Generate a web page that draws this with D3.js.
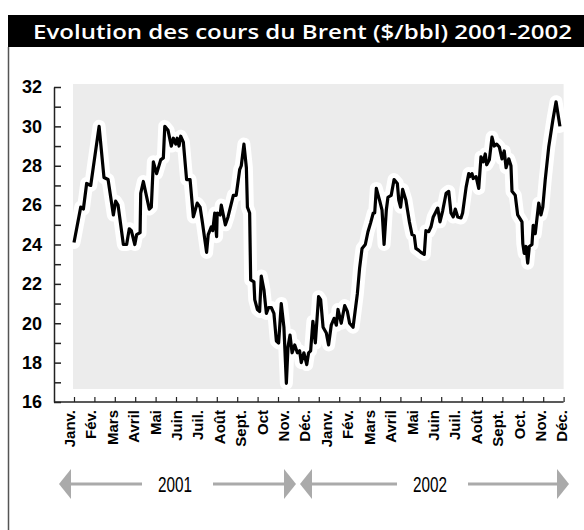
<!DOCTYPE html>
<html>
<head>
<meta charset="utf-8">
<script src="https://cdn.jsdelivr.net/npm/d3@7"></script>
<style>
  body { margin: 0; background: #fff; }
  #chart { width: 584px; height: 530px; }
  .y-axis text { font-family: "Liberation Sans", Arial, sans-serif; font-weight: bold; font-size: 18px; fill: #000; }
  .month { font-family: "Liberation Sans", Arial, sans-serif; font-weight: bold; font-size: 15px; fill: #000; }
  .year { font-family: "Liberation Sans Narrow", "Arial Narrow", "Liberation Sans", sans-serif; font-size: 22px; fill: #000; }
</style>
</head>
<body>
<div id="chart"></div>
<script>
// months since Jan 2001 (weekly-ish readings)
const t = [0.0,0.33,0.46,0.62,0.82,1.23,1.47,1.67,1.93,2.04,2.16,2.42,2.58,2.71,2.81,2.98,3.07,3.24,3.27,3.40,3.69,3.79,3.89,4.05,4.25,4.38,4.45,4.61,4.77,4.87,4.99,5.06,5.15,5.23,5.36,5.52,5.69,5.85,6.04,6.18,6.29,6.50,6.58,6.73,6.80,6.90,6.99,7.02,7.16,7.22,7.42,7.55,7.81,7.95,8.12,8.20,8.33,8.45,8.50,8.61,8.66,8.82,8.86,8.99,9.10,9.18,9.31,9.43,9.54,9.67,9.80,9.92,10.03,10.16,10.29,10.41,10.49,10.59,10.69,10.82,10.95,11.06,11.14,11.27,11.41,11.50,11.60,11.71,11.83,11.99,12.09,12.21,12.37,12.48,12.61,12.75,12.86,12.94,13.10,13.27,13.40,13.51,13.68,13.89,14.00,14.12,14.28,14.41,14.54,14.67,14.74,14.82,14.99,15.10,15.20,15.31,15.39,15.55,15.69,15.85,15.92,16.01,16.11,16.27,16.44,16.57,16.68,16.76,16.90,17.01,17.17,17.25,17.39,17.50,17.61,17.71,17.83,17.94,18.07,18.24,18.37,18.48,18.59,18.69,18.81,18.97,19.05,19.22,19.35,19.41,19.51,19.57,19.71,19.84,19.95,20.06,20.16,20.23,20.36,20.49,20.60,20.72,20.85,20.98,21.09,21.18,21.31,21.42,21.47,21.63,21.75,21.96,22.00,22.07,22.16,22.24,22.32,22.45,22.51,22.61,22.78,22.89,22.98,23.10,23.27,23.47,23.63,23.82];
const brent = [24.1,25.9,25.8,27.1,27.0,30.0,27.4,27.3,25.5,26.2,26.0,24.0,24.0,24.8,24.7,24.0,24.5,24.6,26.6,27.2,25.8,25.9,28.2,27.6,28.3,28.4,30.0,29.8,29.0,29.4,29.1,29.4,29.0,29.5,29.2,27.3,27.3,25.4,26.1,25.9,25.15,23.6,24.5,24.9,24.7,25.6,24.4,25.6,25.5,26.0,25.0,25.4,26.5,26.5,27.8,28.0,29.1,27.9,25.9,25.6,22.2,22.1,21.2,20.7,20.6,22.4,21.7,20.5,20.8,20.8,20.5,19.1,19.0,21.0,19.8,16.95,18.8,19.4,18.5,18.9,18.5,18.6,18.0,18.5,17.9,18.5,18.6,20.1,19.0,21.35,21.2,19.8,19.5,18.9,19.9,20.25,19.9,20.7,20.0,20.9,20.6,20.0,19.8,21.5,22.8,23.8,24.0,24.65,25.1,25.6,25.6,26.85,26.2,25.75,24.0,25.75,26.4,26.5,27.3,27.1,26.25,25.9,26.8,26.25,25.15,24.5,24.45,23.8,23.7,23.6,23.5,24.7,24.65,24.9,25.4,25.6,25.85,25.15,25.7,26.6,26.7,25.6,25.4,25.8,25.4,25.35,25.6,26.9,27.6,27.45,27.6,27.35,27.45,26.85,28.45,28.2,28.6,28.05,28.3,29.45,29.0,29.1,28.95,28.35,28.75,27.9,28.35,28.0,26.7,26.5,25.5,25.15,24.05,23.55,23.9,23.05,23.9,24.0,24.97,24.55,26.1,25.5,25.9,27.3,28.95,30.3,31.25,30.0];

const monthLabels = ["Janv.","Fév.","Mars","Avril","Mai","Juin","Juil.","Août","Sept.","Oct","Nov.","Déc.",
                     "Janv.","Fév.","Mars","Avril","Mai","Juin","Juil.","Août","Sept.","Oct.","Nov.","Déc."];
const yTicks = d3.range(16, 33, 1);
const years = ["2001", "2002"];
const title = "Evolution des cours du Brent ($/bbl) 2001-2002";

const width = 584, height = 530;

const svg = d3.select("#chart").append("svg")
  .attr("width", width)
  .attr("height", height);

// title bar + frame
svg.append("rect")
  .attr("x", 8).attr("y", 15)
  .attr("width", width - 8).attr("height", 32)
  .attr("fill", "#000");
svg.append("text")
  .attr("x", 33).attr("y", 39)
  .attr("fill", "#fff")
  .attr("font-family", "'Open Sans', 'Liberation Sans', sans-serif")
  .attr("font-weight", 600)
  .attr("font-size", 20.5)
  .attr("textLength", 539)
  .attr("lengthAdjust", "spacingAndGlyphs")
  .text(title);
svg.append("line")
  .attr("x1", 8.5).attr("x2", 8.5)
  .attr("y1", 47).attr("y2", height)
  .attr("stroke", "#555").attr("stroke-width", 1.5);

const x = d3.scaleLinear().domain([0, 24]).range([74, 563.6]);
const y = d3.scaleLinear().domain([16, 32]).range([402, 87]);

// plot background
svg.append("rect")
  .attr("x", x(0) - 1).attr("y", y(32.15))
  .attr("width", x(24) - x(0) + 1)
  .attr("height", y(16.66) - y(32.15))
  .attr("fill", "#ececec");

// y axis
const yAxis = d3.axisLeft(y)
  .tickValues(yTicks)
  .tickSize(-7)
  .tickSizeOuter(0)
  .tickPadding(12)
  .tickFormat(d => d % 2 === 0 ? d : "");
const gy = svg.append("g")
  .attr("class", "y-axis")
  .attr("transform", "translate(54,0)")
  .call(yAxis);
gy.selectAll("path, line").attr("stroke", "#222").attr("stroke-width", 1.5);

// x axis (ticks point up)
const xAxis = d3.axisBottom(x)
  .tickValues(d3.range(0, 25))
  .tickSize(-5)
  .tickSizeOuter(0)
  .tickFormat("");
const gx = svg.append("g")
  .attr("transform", `translate(0,${y(16)})`)
  .call(xAxis);
gx.select(".domain").remove();
gx.selectAll("line").attr("stroke", "#222").attr("stroke-width", 1.2);
gx.append("line")
  .attr("x1", 54).attr("x2", x(24))
  .attr("stroke", "#222").attr("stroke-width", 1.5);

// month labels
const lx = d3.scalePoint().domain(d3.range(monthLabels.length)).range([69.5, 562]);
svg.selectAll(".month")
  .data(monthLabels)
  .join("text")
  .attr("class", "month")
  .attr("text-anchor", "end")
  .attr("dy", "0.36em")
  .attr("transform", (d, i) => `translate(${lx(i)},410) rotate(-90)`)
  .text(d => d);

// price line with white halo
const pts = t.map((d, i) => [d, brent[i]]);
const line = d3.line().x(d => x(d[0])).y(d => y(d[1]));
svg.append("path")
  .datum(pts)
  .attr("d", line)
  .attr("fill", "none")
  .attr("stroke", "#fff")
  .attr("stroke-width", 13)
  .attr("stroke-linejoin", "round")
  .attr("stroke-linecap", "round");
svg.append("path")
  .datum(pts)
  .attr("d", line)
  .attr("fill", "none")
  .attr("stroke", "#000")
  .attr("stroke-width", 3.2)
  .attr("stroke-linejoin", "round");

// year arrows
const arrowY = 484;
const spans = [
  { left: 59, right: 296, gapL: 142, gapR: 213, cx: 175 },
  { left: 300, right: 569, gapL: 397, gapR: 468, cx: 430 }
];
const grey = "#aaaaaa";
spans.forEach((s, i) => {
  const g = svg.append("g");
  g.append("line").attr("x1", s.left + 11).attr("x2", s.gapL)
    .attr("y1", arrowY).attr("y2", arrowY)
    .attr("stroke", grey).attr("stroke-width", 3);
  g.append("line").attr("x1", s.gapR).attr("x2", s.right - 11)
    .attr("y1", arrowY).attr("y2", arrowY)
    .attr("stroke", grey).attr("stroke-width", 3);
  g.append("path")
    .attr("d", `M${s.left},${arrowY}L${s.left + 12},${arrowY - 15}L${s.left + 12},${arrowY + 15}Z`)
    .attr("fill", grey);
  g.append("path")
    .attr("d", `M${s.right},${arrowY}L${s.right - 12},${arrowY - 15}L${s.right - 12},${arrowY + 15}Z`)
    .attr("fill", grey);
  g.append("text")
    .attr("class", "year")
    .attr("x", s.cx).attr("y", arrowY + 8)
    .attr("text-anchor", "middle")
    .attr("textLength", 34)
    .attr("lengthAdjust", "spacingAndGlyphs")
    .text(years[i]);
});
</script>
</body>
</html>
